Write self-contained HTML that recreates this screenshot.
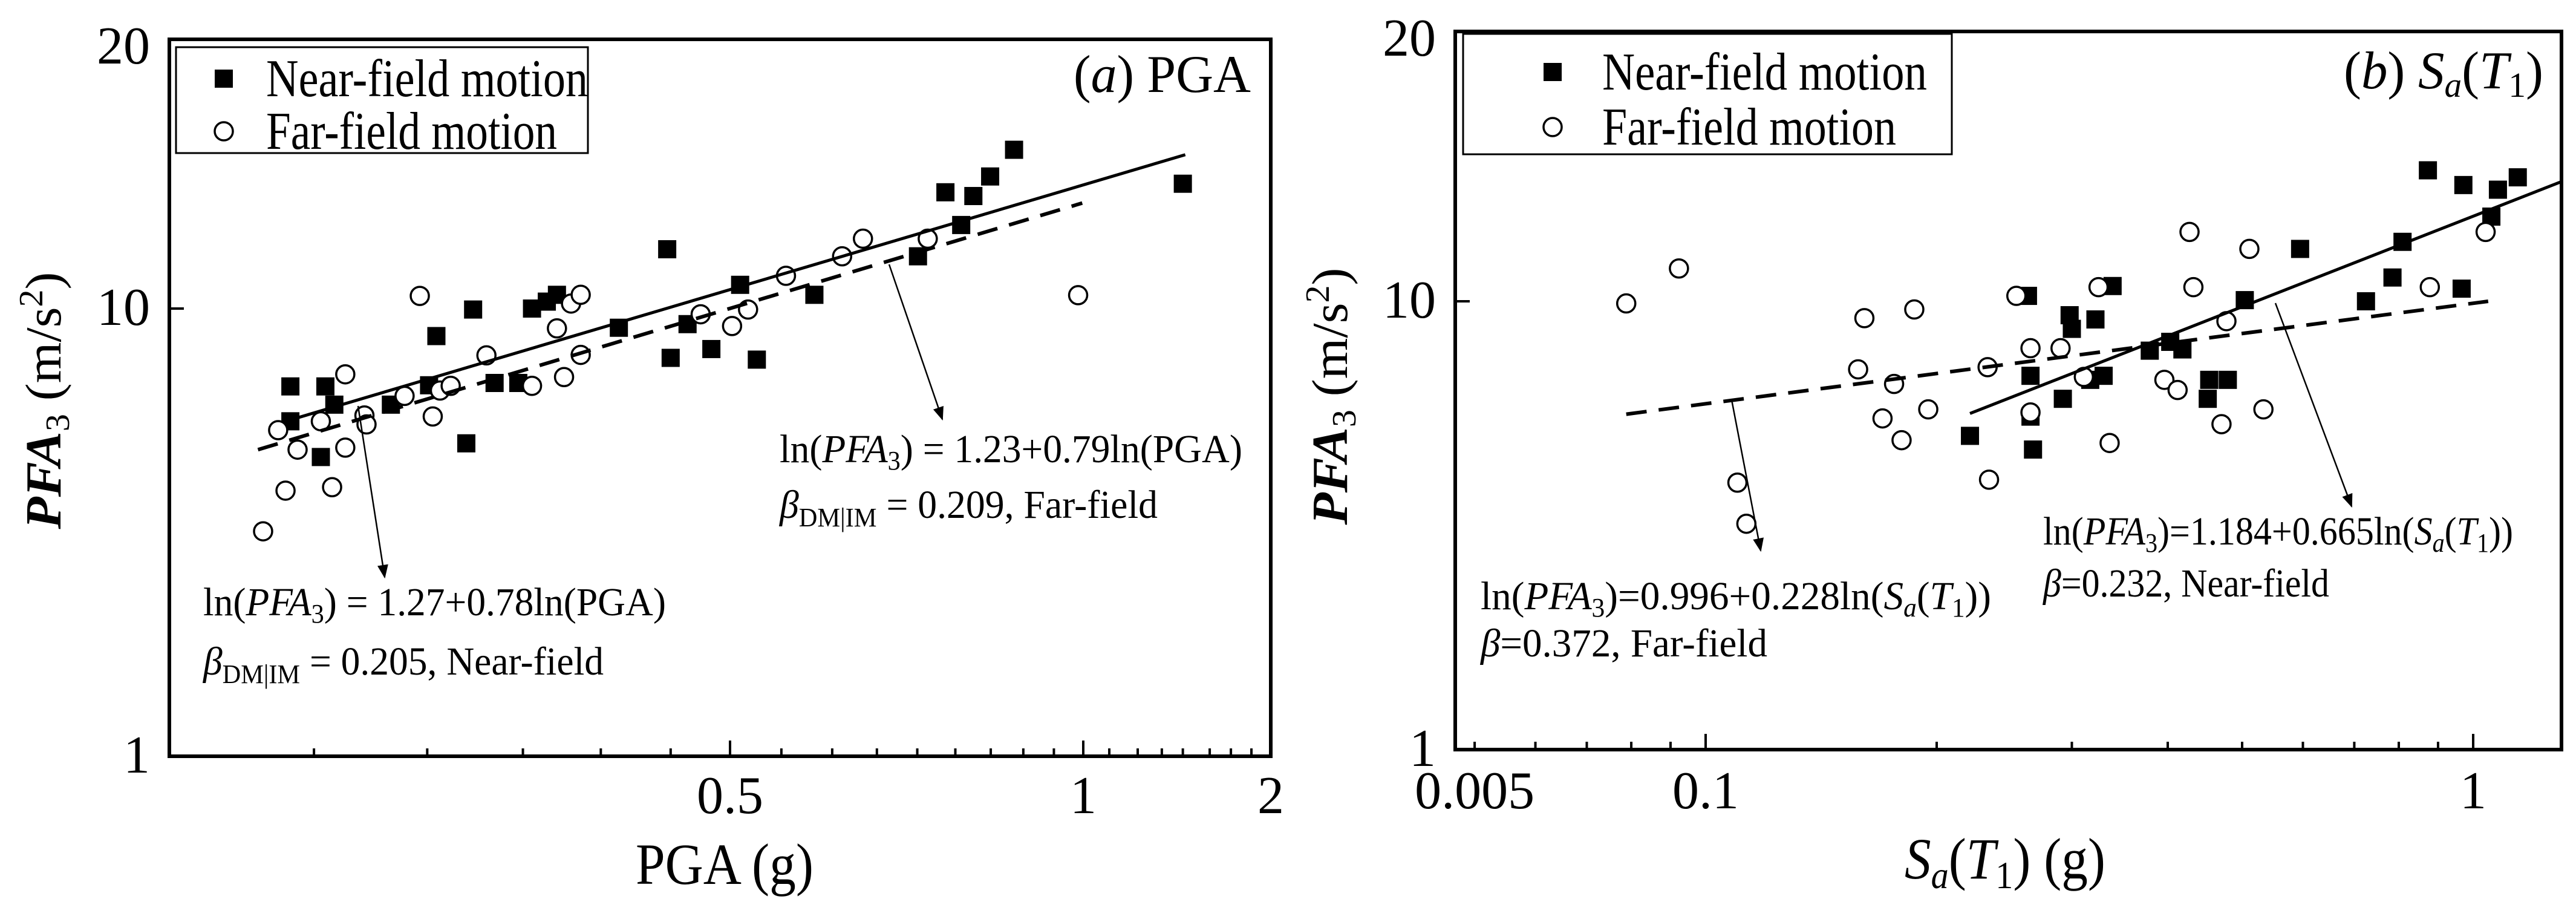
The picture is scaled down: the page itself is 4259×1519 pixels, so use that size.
<!DOCTYPE html>
<html><head><meta charset="utf-8">
<style>
html,body{margin:0;padding:0;background:#fff;}
svg{display:block;font-family:"Liberation Serif","DejaVu Serif",serif;}
</style></head>
<body>
<svg id="fig" width="4259" height="1519" viewBox="0 0 4259 1519" xmlns="http://www.w3.org/2000/svg">
<rect x="0" y="0" width="4259" height="1519" fill="#fff"/>
<g id="pa"></g>
<g id="pb"></g>
</svg>
<script>
// ---- Panel (a) data ----
const aNearX = [0.211,0.211,0.226,0.230,0.224,0.257,0.277,0.281,0.298,0.302,0.315,0.330,0.339,0.349,0.356,0.402,0.442,0.445,0.460,0.482,0.510,0.527,0.590,0.723,0.763,0.787,0.806,0.833,0.873,1.445];
const aNearY = [6.70,5.60,6.70,6.10,4.66,6.10,6.74,8.68,5.00,9.95,6.82,6.82,10.0,10.18,10.36,9.06,11.65,7.76,9.23,8.12,10.63,7.69,10.36,11.44,13.49,12.40,13.36,14.05,15.05,13.79];
const aFarX = [0.200,0.206,0.209,0.214,0.224,0.229,0.235,0.235,0.244,0.245,0.264,0.272,0.279,0.283,0.289,0.310,0.339,0.356,0.361,0.366,0.373,0.373,0.472,0.502,0.518,0.558,0.623,0.649,0.737,0.990];
const aFarY = [3.18,5.35,3.92,4.84,5.60,3.99,7.13,4.89,5.77,5.51,6.38,10.33,5.74,6.56,6.72,7.86,6.72,9.03,7.03,10.13,10.36,7.88,9.71,9.14,9.95,10.88,11.44,11.97,11.97,10.35];
const aFitNearX = [0.211,1.458];
const aFitNearY = [5.64,14.86];
const aFitFarX = [0.198,0.998];
const aFitFarY = [4.84,13.12];
const aXMajor = [0.5,1,2];
const aXMajorLabels = ["0.5","1","2"];
const aXMinor = [0.221,0.276,0.333,0.388,0.445,0.553,0.611,0.667,0.722,0.778,0.834,0.889,0.944,1.101,1.223,1.337,1.445,1.596,1.726,1.862];
const aYTicks = [1,10,20];
const aYLabels = ["1","10","20"];

// ---- Panel (b) data ----
const bNearX = [0.221,0.263,0.265,0.265,0.267,0.292,0.298,0.300,0.322,0.317,0.330,0.339,0.379,0.403,0.418,0.451,0.453,0.479,0.504,0.595,0.725,0.785,0.809,0.873,0.971,0.966,1.056,1.077,1.143];
const bNearY = [5.01,10.14,6.82,5.53,4.67,6.06,9.31,8.68,9.11,6.68,6.82,10.40,7.76,8.12,7.81,6.06,6.68,6.68,10.03,11.44,10.0,10.63,11.65,14.00,13.48,10.33,12.43,13.32,13.75];
const bFarX = [0.0788,0.0923,0.110,0.113,0.158,0.161,0.170,0.176,0.180,0.187,0.195,0.233,0.234,0.254,0.265,0.265,0.290,0.311,0.325,0.336,0.396,0.412,0.427,0.432,0.470,0.477,0.511,0.533,0.878,1.038];
const bFarY = [9.89,10.88,3.94,3.19,7.05,9.17,5.48,6.54,4.90,9.59,5.74,7.13,4.00,10.14,7.86,5.65,7.86,6.78,10.37,4.83,6.68,6.34,11.95,10.37,5.32,9.03,11.44,5.74,10.37,11.95];
const bFitNearX = [0.221,1.303];
const bFitNearY = [5.62,13.60];
const bFitFarX = [0.0788,1.046];
const bFitFarY = [5.60,10.0];
const bXMajor = [0.05,0.1,1];
const bXMajorLabels = ["0.005","0.1","1"];
const bXMajorLong = [false,true,true];
const bXMinor = [0.06,0.07,0.08,0.09,0.2,0.3,0.4,0.5,0.6,0.7,0.8,0.9];
const bYTicks = [1,10,20];
const bYLabels = ["1","10","20"];

const NS = "http://www.w3.org/2000/svg";
function mk(parent, tag, attrs) {
  const e = document.createElementNS(NS, tag);
  for (const k in attrs) e.setAttribute(k, attrs[k]);
  parent.appendChild(e);
  return e;
}
function logAxis(anchors) {
  return function(v) {
    const lv = Math.log(v);
    let i = 0;
    while (i < anchors.length - 2 && lv > Math.log(anchors[i+1][0])) i++;
    const a = anchors[i], b = anchors[i+1];
    const t = (lv - Math.log(a[0])) / (Math.log(b[0]) - Math.log(a[0]));
    return a[1] + t * (b[1] - a[1]);
  };
}

function buildPanel(g, cfg) {
  const X = cfg.X, Y = cfg.Y, L = cfg.L, R = cfg.R, T = cfg.T, B = cfg.B;
  const nearG = mk(g, "g", {});
  
  
  cfg.nearX.forEach((v, i) => {
    const r = mk(nearG, "rect", {x: X(v) - 15, y: Y(cfg.nearY[i]) - 15, width: 30, height: 30, fill: "#000"});
    
    
  });
  const farG = mk(g, "g", {});
  
  
  cfg.farX.forEach((v, i) => {
    const c = mk(farG, "circle", {cx: X(v), cy: Y(cfg.farY[i]), r: 15, fill: "#fff", stroke: "#000", "stroke-width": 3.5});
    
    
  });
  const ln1 = mk(g, "line", {x1: X(cfg.fnX[0]), y1: Y(cfg.fnY[0]), x2: X(cfg.fnX[1]), y2: Y(cfg.fnY[1]), stroke: "#000", "stroke-width": 5});
  
  
  const ln2 = mk(g, "line", {x1: X(cfg.ffX[0]), y1: Y(cfg.ffY[0]), x2: X(cfg.ffX[1]), y2: Y(cfg.ffY[1]), stroke: "#000", "stroke-width": 6, "stroke-dasharray": "34 20"});
  
  
  const fr = mk(g, "rect", {x: L, y: T, width: R - L, height: B - T, fill: "none", stroke: "#000", "stroke-width": 6});
  
  
  cfg.xMajor.forEach((v, i) => {
    const x = X(v);
    const long = cfg.xLong ? cfg.xLong[i] : true;
    if (x < R - 3) {
      const t = mk(g, "line", {x1: x, y1: B, x2: x, y2: B - (long ? 26 : 13), stroke: "#000", "stroke-width": 4});
      
      
    }
    const lb = mk(g, "text", {x: x, y: cfg.xLabelY, "font-size": 88, "text-anchor": "middle"});
    lb.textContent = cfg.xLabels[i];
    
    
  });
  cfg.xMinor.forEach(v => {
    const x = X(v);
    const t = mk(g, "line", {x1: x, y1: B, x2: x, y2: B - 13, stroke: "#000", "stroke-width": 4});
    
    
  });
  cfg.yTicks.forEach((v, i) => {
    const y = Y(v);
    if (v === 10) {
      const t = mk(g, "line", {x1: L, y1: y, x2: L + 24, y2: y, stroke: "#000", "stroke-width": 4});
      
      
    }
    let by = y + 27;
    if (v === 20) by = y + 40;
    if (v === 1) by = y + 27;
    const lb = mk(g, "text", {x: L - 32, y: by, "font-size": 88, "text-anchor": "end"});
    lb.textContent = cfg.yLabels[i];
    
    
  });
}

const XA = logAxis([[0.166,278],[0.5,1207],[1,1791],[2,2101]]);
const YA = logAxis([[1,1250],[10,510],[20,65]]);
const XB = logAxis([[0.047,2404],[0.1,2820],[1,4089],[1.303,4235]]);
const YB = logAxis([[1,1239],[10,498],[20,52]]);

buildPanel(document.getElementById("pa"), {X: XA, Y: YA, L: 280, R: 2101, T: 65, B: 1250, xLabelY: 1344,
  nearX: aNearX, nearY: aNearY, farX: aFarX, farY: aFarY,
  fnX: aFitNearX, fnY: aFitNearY, ffX: aFitFarX, ffY: aFitFarY,
  xMajor: aXMajor, xLabels: aXMajorLabels, xMinor: aXMinor, yTicks: aYTicks, yLabels: aYLabels});
buildPanel(document.getElementById("pb"), {X: XB, Y: YB, L: 2406, R: 4235, T: 52, B: 1239, xLabelY: 1336,
  nearX: bNearX, nearY: bNearY, farX: bFarX, farY: bFarY,
  fnX: bFitNearX, fnY: bFitNearY, ffX: bFitFarX, ffY: bFitFarY,
  xMajor: bXMajor, xLabels: bXMajorLabels, xLong: bXMajorLong, xMinor: bXMinor, yTicks: bYTicks, yLabels: bYLabels});
</script>
<script>
const extra = `
<defs><marker id="ah" viewBox="0 0 10 10" refX="9" refY="5" markerWidth="9" markerHeight="9" orient="auto-start-reverse"><path d="M0,1 L10,5 L0,9 z" fill="#000"/></marker></defs>
<g>
 <rect x="291" y="78" width="681" height="175" fill="#fff" stroke="#000" stroke-width="3"/>
 <rect x="355" y="115" width="30" height="30" fill="#000"/>
 <circle cx="370" cy="217" r="15" fill="#fff" stroke="#000" stroke-width="3.5"/>
 <text x="440" y="159" font-size="88" textLength="532" lengthAdjust="spacingAndGlyphs">Near-field motion</text>
 <text x="440" y="246" font-size="88" textLength="481" lengthAdjust="spacingAndGlyphs">Far-field motion</text>
</g>
<text x="2068" y="152" font-size="88" text-anchor="end" textLength="293" lengthAdjust="spacingAndGlyphs">(<tspan font-style="italic">a</tspan>) PGA</text>
<text x="1198" y="1461" font-size="96" text-anchor="middle" textLength="294" lengthAdjust="spacingAndGlyphs">PGA (g)</text>
<text transform="translate(100,662) rotate(-90)" font-size="84" text-anchor="middle" textLength="425" lengthAdjust="spacingAndGlyphs"><tspan font-weight="bold" font-style="italic">PFA</tspan><tspan font-size="56" dy="14">3</tspan><tspan dy="-14"> (m/s</tspan><tspan font-size="56" dy="-30">2</tspan><tspan dy="30">)</tspan></text>
<line x1="592" y1="671" x2="636" y2="954" stroke="#000" stroke-width="2.5" marker-end="url(#ah)"/>
<line x1="1470" y1="437" x2="1558" y2="693" stroke="#000" stroke-width="2.5" marker-end="url(#ah)"/>
<text x="336" y="1017" font-size="66" textLength="765" lengthAdjust="spacingAndGlyphs">ln(<tspan font-style="italic">PFA</tspan><tspan font-size="44" dy="12">3</tspan><tspan dy="-12">) = 1.27+0.78ln(PGA)</tspan></text>
<text x="336" y="1115" font-size="66" textLength="662" lengthAdjust="spacingAndGlyphs"><tspan font-style="italic">β</tspan><tspan font-size="44" dy="14">DM|IM</tspan><tspan dy="-14"> = 0.205, Near-field</tspan></text>
<text x="1289" y="764" font-size="66" textLength="765" lengthAdjust="spacingAndGlyphs">ln(<tspan font-style="italic">PFA</tspan><tspan font-size="44" dy="12">3</tspan><tspan dy="-12">) = 1.23+0.79ln(PGA)</tspan></text>
<text x="1289" y="856" font-size="66" textLength="625" lengthAdjust="spacingAndGlyphs"><tspan font-style="italic">β</tspan><tspan font-size="44" dy="14">DM|IM</tspan><tspan dy="-14"> = 0.209, Far-field</tspan></text>

<g>
 <rect x="2419" y="56" width="808" height="199" fill="#fff" stroke="#000" stroke-width="3"/>
 <rect x="2552" y="104" width="30" height="30" fill="#000"/>
 <circle cx="2567" cy="210" r="15" fill="#fff" stroke="#000" stroke-width="3.5"/>
 <text x="2649" y="148" font-size="88" textLength="537" lengthAdjust="spacingAndGlyphs">Near-field motion</text>
 <text x="2649" y="239" font-size="88" textLength="486" lengthAdjust="spacingAndGlyphs">Far-field motion</text>
</g>
<text x="4205" y="146" font-size="88" text-anchor="end" textLength="330" lengthAdjust="spacingAndGlyphs">(<tspan font-style="italic">b</tspan>) <tspan font-style="italic">S</tspan><tspan font-style="italic" font-size="58" dy="14">a</tspan><tspan dy="-14">(</tspan><tspan font-style="italic">T</tspan><tspan font-size="58" dy="14">1</tspan><tspan dy="-14">)</tspan></text>
<text x="3315" y="1452" font-size="96" text-anchor="middle" textLength="332" lengthAdjust="spacingAndGlyphs"><tspan font-style="italic">S</tspan><tspan font-style="italic" font-size="64" dy="16">a</tspan><tspan dy="-16">(</tspan><tspan font-style="italic">T</tspan><tspan font-size="64" dy="16">1</tspan><tspan dy="-16">) (g)</tspan></text>
<text transform="translate(2227,655) rotate(-90)" font-size="84" text-anchor="middle" textLength="425" lengthAdjust="spacingAndGlyphs"><tspan font-weight="bold" font-style="italic">PFA</tspan><tspan font-size="56" dy="14">3</tspan><tspan dy="-14"> (m/s</tspan><tspan font-size="56" dy="-30">2</tspan><tspan dy="30">)</tspan></text>
<line x1="2863" y1="661" x2="2911" y2="910" stroke="#000" stroke-width="2.5" marker-end="url(#ah)"/>
<line x1="3762" y1="501" x2="3888" y2="837" stroke="#000" stroke-width="2.5" marker-end="url(#ah)"/>
<text x="2448" y="1007" font-size="66" textLength="844" lengthAdjust="spacingAndGlyphs">ln(<tspan font-style="italic">PFA</tspan><tspan font-size="44" dy="12">3</tspan><tspan dy="-12">)=0.996+0.228ln(</tspan><tspan font-style="italic">S</tspan><tspan font-style="italic" font-size="44" dy="12">a</tspan><tspan dy="-12">(</tspan><tspan font-style="italic">T</tspan><tspan font-size="44" dy="12">1</tspan><tspan dy="-12">))</tspan></text>
<text x="2448" y="1085" font-size="66" textLength="474" lengthAdjust="spacingAndGlyphs"><tspan font-style="italic">β</tspan>=0.372, Far-field</text>
<text x="3378" y="900" font-size="66" textLength="777" lengthAdjust="spacingAndGlyphs">ln(<tspan font-style="italic">PFA</tspan><tspan font-size="44" dy="12">3</tspan><tspan dy="-12">)=1.184+0.665ln(</tspan><tspan font-style="italic">S</tspan><tspan font-style="italic" font-size="44" dy="12">a</tspan><tspan dy="-12">(</tspan><tspan font-style="italic">T</tspan><tspan font-size="44" dy="12">1</tspan><tspan dy="-12">))</tspan></text>
<text x="3378" y="986" font-size="66" textLength="473" lengthAdjust="spacingAndGlyphs"><tspan font-style="italic">β</tspan>=0.232, Near-field</text>
`;
document.getElementById("fig").insertAdjacentHTML("beforeend", extra);
</script>
</body></html>
